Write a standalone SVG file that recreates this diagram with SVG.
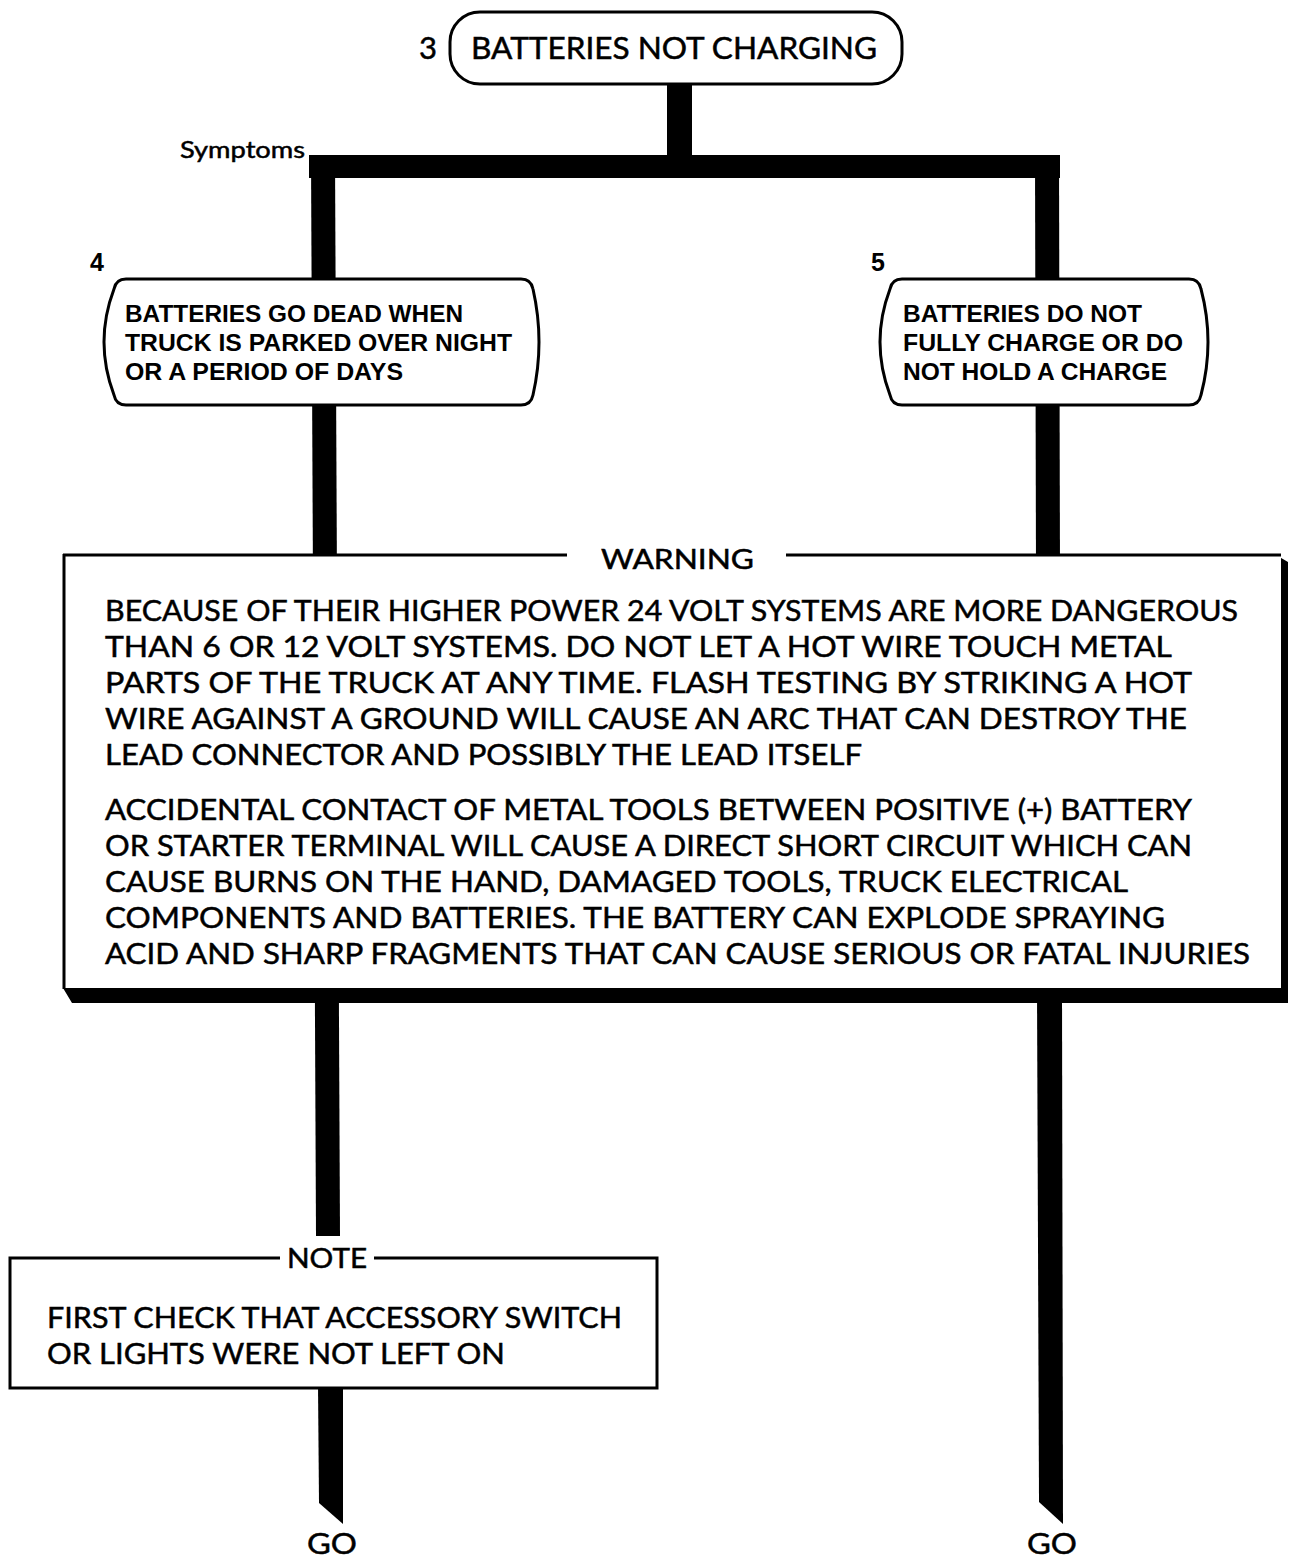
<svg xmlns="http://www.w3.org/2000/svg" width="1292" height="1563" viewBox="0 0 1292 1563">
<style>
.box{fill:#fff;stroke:#000;stroke-width:3}
.line{fill:#000;stroke:none}
.geo{font-family:Lato,"DejaVu Sans",sans-serif;fill:#000;stroke:#000;stroke-width:0.5}
.hel{font-family:"Liberation Sans",Arial,sans-serif;font-weight:bold;fill:#000}
.w{font-size:29px}
.s{font-size:24px}
</style>
<rect width="1292" height="1563" fill="#fff"/>
<g id="connectors">
<rect class="line" x="667" y="82" width="25" height="80"/>
<rect class="line" x="309" y="155" width="751" height="23"/>
<polygon class="line" points="311,155 335,155 340,1236 316,1236"/>
<polygon class="line" points="1035,155 1059,155 1061,1000 1037,1000"/>
<polygon class="line" points="318,1385 343,1385 343,1524 319,1503"/>
<polygon class="line" points="1037,990 1062,990 1063,1524 1039,1502"/>
</g>
<g id="node-3">
<rect class="box" x="450" y="12" width="452" height="72" rx="30"/>
<text class="geo" x="419" y="59" font-size="31">3</text>
<text class="geo" x="471" y="59" font-size="30" textLength="406" lengthAdjust="spacingAndGlyphs">BATTERIES NOT CHARGING</text>
</g>
<text class="geo" x="180" y="158" font-size="23" textLength="125" lengthAdjust="spacingAndGlyphs">Symptoms</text>
<g id="node-4">
<path class="box" d="M126,279 L521,279 Q531,279 533,289 Q545,342 533,395 Q531,405 521,405 L126,405 Q116,405 114,395 Q94,342 114,289 Q116,279 126,279 Z"/>
<text class="hel" x="90" y="271" font-size="25">4</text>
<text class="hel s" x="125" y="322" textLength="338" lengthAdjust="spacingAndGlyphs">BATTERIES GO DEAD WHEN</text>
<text class="hel s" x="125" y="351" textLength="387" lengthAdjust="spacingAndGlyphs">TRUCK IS PARKED OVER NIGHT</text>
<text class="hel s" x="125" y="380" textLength="278" lengthAdjust="spacingAndGlyphs">OR A PERIOD OF DAYS</text>
</g>
<g id="node-5">
<path class="box" d="M902,279 L1189,279 Q1199,279 1201,289 Q1215,342 1201,395 Q1199,405 1189,405 L902,405 Q892,405 890,395 Q870,342 890,289 Q892,279 902,279 Z"/>
<text class="hel" x="871" y="271" font-size="25">5</text>
<text class="hel s" x="903" y="322" textLength="239" lengthAdjust="spacingAndGlyphs">BATTERIES DO NOT</text>
<text class="hel s" x="903" y="351" textLength="280" lengthAdjust="spacingAndGlyphs">FULLY CHARGE OR DO</text>
<text class="hel s" x="903" y="380" textLength="264" lengthAdjust="spacingAndGlyphs">NOT HOLD A CHARGE</text>
</g>
<g id="warning">
<polygon class="line" points="1276,555 1288,562 1288,1003 72,1003 63,988 1276,988"/>
<rect x="63" y="555" width="1218" height="433" fill="#fff"/>
<line x1="63" y1="555" x2="567" y2="555" stroke="#000" stroke-width="3"/>
<line x1="786" y1="555" x2="1281" y2="555" stroke="#000" stroke-width="3"/>
<line x1="64" y1="554" x2="64" y2="989" stroke="#000" stroke-width="3"/>
<text class="geo" x="601" y="569" font-size="27" textLength="153" lengthAdjust="spacingAndGlyphs">WARNING</text>
<text class="geo w" x="105" y="621" textLength="1133" lengthAdjust="spacingAndGlyphs">BECAUSE OF THEIR HIGHER POWER 24 VOLT SYSTEMS ARE MORE DANGEROUS</text>
<text class="geo w" x="105" y="657" textLength="1067" lengthAdjust="spacingAndGlyphs">THAN 6 OR 12 VOLT SYSTEMS.  DO NOT LET A HOT WIRE TOUCH METAL</text>
<text class="geo w" x="105" y="693" textLength="1087" lengthAdjust="spacingAndGlyphs">PARTS OF THE TRUCK AT ANY TIME.  FLASH TESTING BY STRIKING A HOT</text>
<text class="geo w" x="105" y="729" textLength="1082" lengthAdjust="spacingAndGlyphs">WIRE AGAINST A GROUND WILL CAUSE AN ARC THAT CAN DESTROY THE</text>
<text class="geo w" x="105" y="765" textLength="757" lengthAdjust="spacingAndGlyphs">LEAD CONNECTOR AND POSSIBLY THE LEAD ITSELF</text>
<text class="geo w" x="105" y="820" textLength="1087" lengthAdjust="spacingAndGlyphs">ACCIDENTAL CONTACT OF METAL TOOLS BETWEEN POSITIVE (+) BATTERY</text>
<text class="geo w" x="105" y="856" textLength="1087" lengthAdjust="spacingAndGlyphs">OR STARTER TERMINAL WILL CAUSE A DIRECT SHORT CIRCUIT WHICH CAN</text>
<text class="geo w" x="105" y="892" textLength="1023" lengthAdjust="spacingAndGlyphs">CAUSE BURNS ON THE HAND, DAMAGED TOOLS, TRUCK ELECTRICAL</text>
<text class="geo w" x="105" y="928" textLength="1060" lengthAdjust="spacingAndGlyphs">COMPONENTS AND BATTERIES.  THE BATTERY CAN EXPLODE SPRAYING</text>
<text class="geo w" x="105" y="964" textLength="1145" lengthAdjust="spacingAndGlyphs">ACID AND SHARP FRAGMENTS THAT CAN CAUSE SERIOUS OR FATAL INJURIES</text>
</g>
<g id="note">
<rect x="10" y="1258" width="647" height="130" fill="#fff"/>
<path d="M280,1258 L10,1258 L10,1388 L657,1388 L657,1258 L374,1258" fill="none" stroke="#000" stroke-width="3"/>
<text class="geo" x="287" y="1268" font-size="27" textLength="80" lengthAdjust="spacingAndGlyphs">NOTE</text>
<text class="geo w" x="47" y="1328" textLength="575" lengthAdjust="spacingAndGlyphs">FIRST CHECK THAT ACCESSORY SWITCH</text>
<text class="geo w" x="47" y="1364" textLength="458" lengthAdjust="spacingAndGlyphs">OR LIGHTS WERE NOT LEFT ON</text>
</g>
<g id="go-left">
<text class="geo" x="307" y="1554" font-size="29" textLength="50" lengthAdjust="spacingAndGlyphs">GO</text>
</g>
<g id="go-right">
<text class="geo" x="1027" y="1554" font-size="29" textLength="50" lengthAdjust="spacingAndGlyphs">GO</text>
</g>
</svg>
